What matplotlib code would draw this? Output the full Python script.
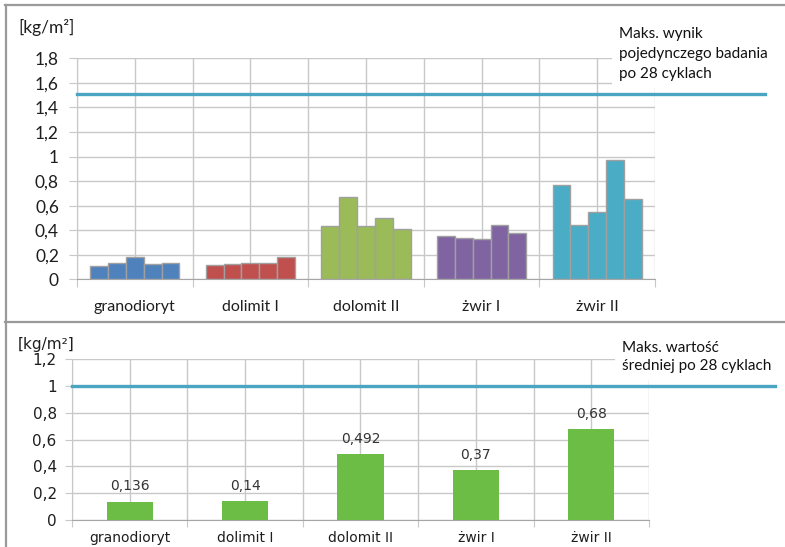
import numpy as np
import matplotlib.pyplot as plt
from matplotlib.lines import Line2D

# rocks tested, 5 samples each (top) and their means (bottom)
categories = ['granodioryt', 'dolimit I', 'dolomit II', 'żwir I', 'żwir II']
samples = [
    [0.105, 0.135, 0.18, 0.125, 0.135],
    [0.12, 0.125, 0.135, 0.135, 0.185],
    [0.435, 0.67, 0.435, 0.5, 0.41],
    [0.355, 0.335, 0.325, 0.44, 0.38],
    [0.765, 0.44, 0.545, 0.975, 0.65],
]
sample_colors = ['#4F81BD', '#C0504D', '#9BBB59', '#8064A2', '#4BACC6']
means = [0.136, 0.14, 0.492, 0.37, 0.68]
mean_labels = ['0,136', '0,14', '0,492', '0,37', '0,68']

limit_single = 1.51
limit_mean = 1.0
top_yticks = [0, 0.2, 0.4, 0.6, 0.8, 1, 1.2, 1.4, 1.6, 1.8]
top_ylabels = ['0', '0,2', '0,4', '0,6', '0,8', '1', '1,2', '1,4', '1,6', '1,8']
bot_yticks = [0, 0.2, 0.4, 0.6, 0.8, 1, 1.2]
bot_ylabels = ['0', '0,2', '0,4', '0,6', '0,8', '1', '1,2']

W, H = 785, 547
GRID = '#c8c8c8'
LINE = '#4AA5C2'
TXT = '#1e1e1e'

fig = plt.figure(figsize=(W / 100, H / 100), dpi=100)


def px_axes(x0, y0, x1, y1):
    # pixel box (top-left origin) -> figure fraction axes
    return fig.add_axes([x0 / W, 1 - y1 / H, (x1 - x0) / W, (y1 - y0) / H])


def style_axes(ax, ymax, font, fsize, pad_y, pad_x, ticklen):
    n = len(categories)
    centers = np.arange(n) + 0.5
    ax.set_xlim(0, n)
    ax.set_ylim(0, ymax)
    ax.set_xticks(np.arange(n + 1))
    ax.set_xticklabels([])
    ax.set_xticks(centers, minor=True)
    ax.set_xticklabels(categories, minor=True, fontfamily=font,
                       fontsize=fsize, color=TXT)
    ax.tick_params(axis='x', which='minor', length=0, pad=pad_x)
    ax.tick_params(axis='x', which='major', length=ticklen, color=GRID,
                   direction='out')
    ax.tick_params(axis='y', length=ticklen, color=GRID, pad=pad_y)
    ax.grid(True, which='both', axis='x', color=GRID, lw=1)
    ax.grid(True, axis='y', color=GRID, lw=1)
    ax.set_axisbelow(True)
    for s in ['top', 'right']:
        ax.spines[s].set_visible(False)
    ax.spines['left'].set_color(GRID)
    ax.spines['bottom'].set_color('#a6a6a6')
    return centers


# --- top panel: single results ---
ax1 = px_axes(77, 58.3, 655, 279.3)
centers = style_axes(ax1, 1.8, 'Lato', 11.5, 7, 15, 6)
ax1.set_yticks(top_yticks)
ax1.set_yticklabels(top_ylabels, fontfamily='Lato', fontsize=12.5, color=TXT)
bw = 0.154
for i, vals in enumerate(samples):
    offs = (np.arange(5) - 2) * bw
    ax1.bar(centers[i] + offs, vals, width=bw, color=sample_colors[i],
            edgecolor='#a0a0a0', linewidth=1, zorder=2)
ax1.axhline(limit_single, xmin=0, xmax=(765 - 77) / 578, color=LINE,
            lw=2.4, clip_on=False, zorder=5)
fig.text(18 / W, 1 - 27 / H, '[kg/m²]', fontfamily='Lato', fontsize=12.5,
         color=TXT, va='center', ha='left')
fig.text(619 / W, 1 - 54 / H,
         'Maks. wynik\npojedynczego badania\npo 28 cyklach',
         fontfamily='Lato', fontsize=11, color='#111111', va='center',
         ha='left', linespacing=1.55,
         bbox=dict(facecolor='white', edgecolor='none', pad=5))

# --- bottom panel: mean values ---
ax2 = px_axes(72, 359.3, 649, 520)
centers = style_axes(ax2, 1.2, 'DejaVu Sans', 10, 6, 8, 5)
ax2.set_yticks(bot_yticks)
ax2.set_yticklabels(bot_ylabels, fontfamily='DejaVu Sans', fontsize=11,
                    color=TXT)
bars = ax2.bar(centers, means, width=0.4, color='#6CBD45', zorder=2)
ax2.bar_label(bars, labels=mean_labels, padding=6, fontfamily='DejaVu Sans',
              fontsize=10, color='#333333')
ax2.axhline(limit_mean, xmin=0, xmax=(775 - 72) / 577, color=LINE,
            lw=2.4, clip_on=False, zorder=5)
fig.text(18 / W, 1 - 344 / H, '[kg/m²]', fontfamily='DejaVu Sans',
         fontsize=11, color=TXT, va='center', ha='left')
fig.text(622 / W, 1 - 357 / H, 'Maks. wartość\nśredniej po 28 cyklach',
         fontfamily='Lato', fontsize=11, color='#111111', va='center',
         ha='left', linespacing=1.45,
         bbox=dict(facecolor='white', edgecolor='none', pad=5))

# panel frames
frame = dict(color='#9a9a9a', lw=1.6)
fig.add_artist(Line2D([5.5 / W, 5.5 / W], [0, 1 - 5 / H], **frame))
fig.add_artist(Line2D([5 / W, 1], [1 - 5 / H, 1 - 5 / H], **frame))
fig.add_artist(Line2D([5 / W, 1], [1 - 321.5 / H, 1 - 321.5 / H], **frame))

fig.savefig('out.png', dpi=100, facecolor='white')
